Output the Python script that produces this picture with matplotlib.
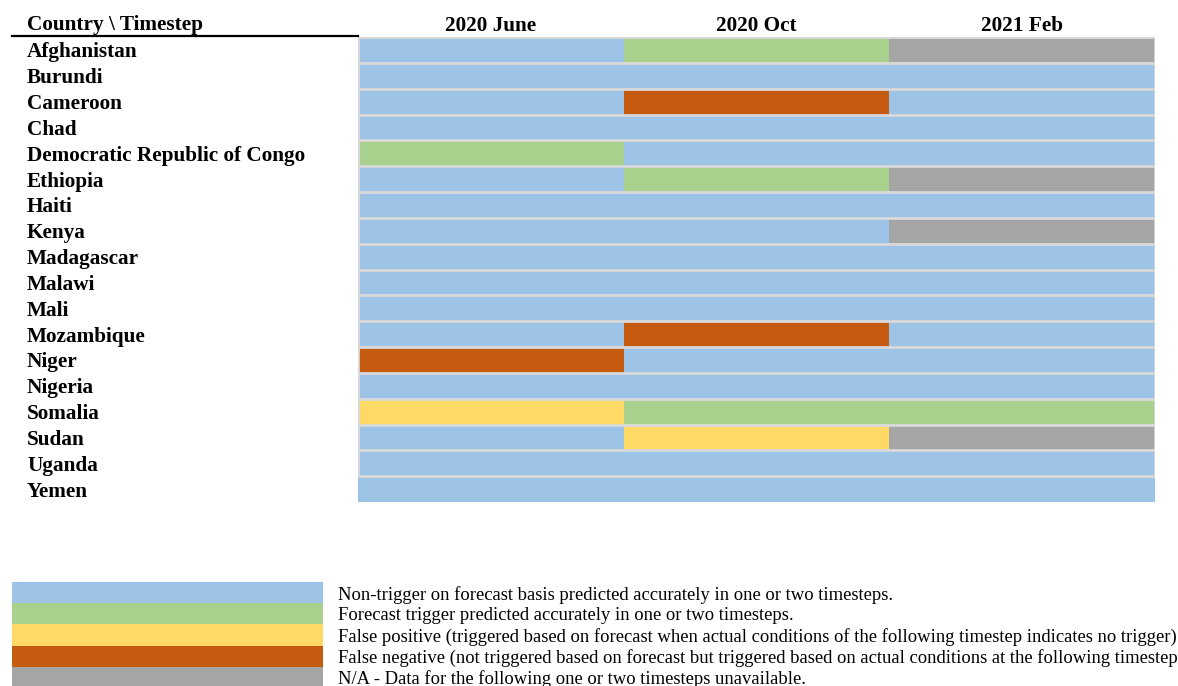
import matplotlib
matplotlib.use('Agg')
import matplotlib.pyplot as plt
import numpy as np
from matplotlib.colors import ListedColormap
from matplotlib.lines import Line2D

plt.rcParams['font.family'] = ['Liberation Serif', 'DejaVu Serif']

countries = ['Afghanistan', 'Burundi', 'Cameroon', 'Chad', 'Democratic Republic of Congo',
             'Ethiopia', 'Haiti', 'Kenya', 'Madagascar', 'Malawi', 'Mali', 'Mozambique',
             'Niger', 'Nigeria', 'Somalia', 'Sudan', 'Uganda', 'Yemen']
timesteps = ['2020 June', '2020 Oct', '2021 Feb']

# 0 non-trigger ok, 1 trigger ok, 2 false positive, 3 false negative, 4 n/a
june = [0, 0, 0, 0, 1, 0, 0, 0, 0, 0, 0, 0, 3, 0, 2, 0, 0, 0]
october = [1, 0, 3, 0, 0, 1, 0, 0, 0, 0, 0, 3, 0, 0, 1, 2, 0, 0]
february = [4, 0, 0, 0, 0, 4, 0, 4, 0, 0, 0, 0, 0, 0, 1, 4, 0, 0]

legend_labels = [
    'Non-trigger on forecast basis predicted accurately in one or two timesteps.',
    'Forecast trigger predicted accurately in one or two timesteps.',
    'False positive (triggered based on forecast when actual conditions of the following timestep indicates no trigger)',
    'False negative (not triggered based on forecast but triggered based on actual conditions at the following timestep)',
    'N/A - Data for the following one or two timesteps unavailable.',
]
colors = ['#9DC3E6', '#A9D18E', '#FFD966', '#C55A11', '#A5A5A5']
cmap = ListedColormap(colors)

W, H = 1178, 686
fig = plt.figure(figsize=(W / 100, H / 100), dpi=100)

# main grid
status = np.array([june, october, february]).T
ax = fig.add_axes([358 / W, 1 - 502 / H, (1155 - 358) / W, (502 - 37) / H])
ax.pcolormesh(np.arange(len(timesteps) + 1), np.arange(len(countries) + 1), status,
              cmap=cmap, vmin=-0.5, vmax=4.5)
ax.set_xlim(0, len(timesteps))
ax.set_ylim(len(countries), 0)
n = len(countries)
ax.hlines(np.arange(n), 0, len(timesteps), color='#d9d9d9', lw=2)
ax.vlines([0, len(timesteps)], 0, n - 1, color='#d9d9d9', lw=2)
for s in ax.spines.values():
    s.set_visible(False)

ax.set_yticks(np.arange(n) + 0.5)
ax.set_yticklabels(countries, fontsize=15.3, fontweight='bold', ha='left')
ax.tick_params(axis='y', length=0, pad=331 * 0.72)
ax.xaxis.tick_top()
ax.set_xticks(np.arange(len(timesteps)) + 0.5)
ax.set_xticklabels(timesteps, fontsize=15.3, fontweight='bold')
ax.tick_params(axis='x', length=0, pad=1)

fig.text(27 / W, 1 - 25 / H, 'Country \\ Timestep', fontsize=15.3, fontweight='bold',
         ha='left', va='center')
fig.add_artist(Line2D([12 / W, 358 / W], [1 - 36 / H, 1 - 36 / H], color='black', lw=1.6))

# legend block
lax = fig.add_axes([12 / W, 1 - 688 / H, (323 - 12) / W, (688 - 582) / H])
lax.imshow(np.arange(len(colors)).reshape(-1, 1), cmap=cmap, vmin=-0.5, vmax=4.5,
           aspect='auto', extent=(0, 1, len(colors), 0))
for s in lax.spines.values():
    s.set_visible(False)
lax.set_xticks([])
lax.yaxis.tick_right()
lax.set_yticks(np.arange(len(colors)) + 0.5)
lax.set_yticklabels(legend_labels, fontsize=13.4)
lax.tick_params(axis='y', length=0, pad=15 * 0.72)

fig.savefig('out.png', dpi=100)
